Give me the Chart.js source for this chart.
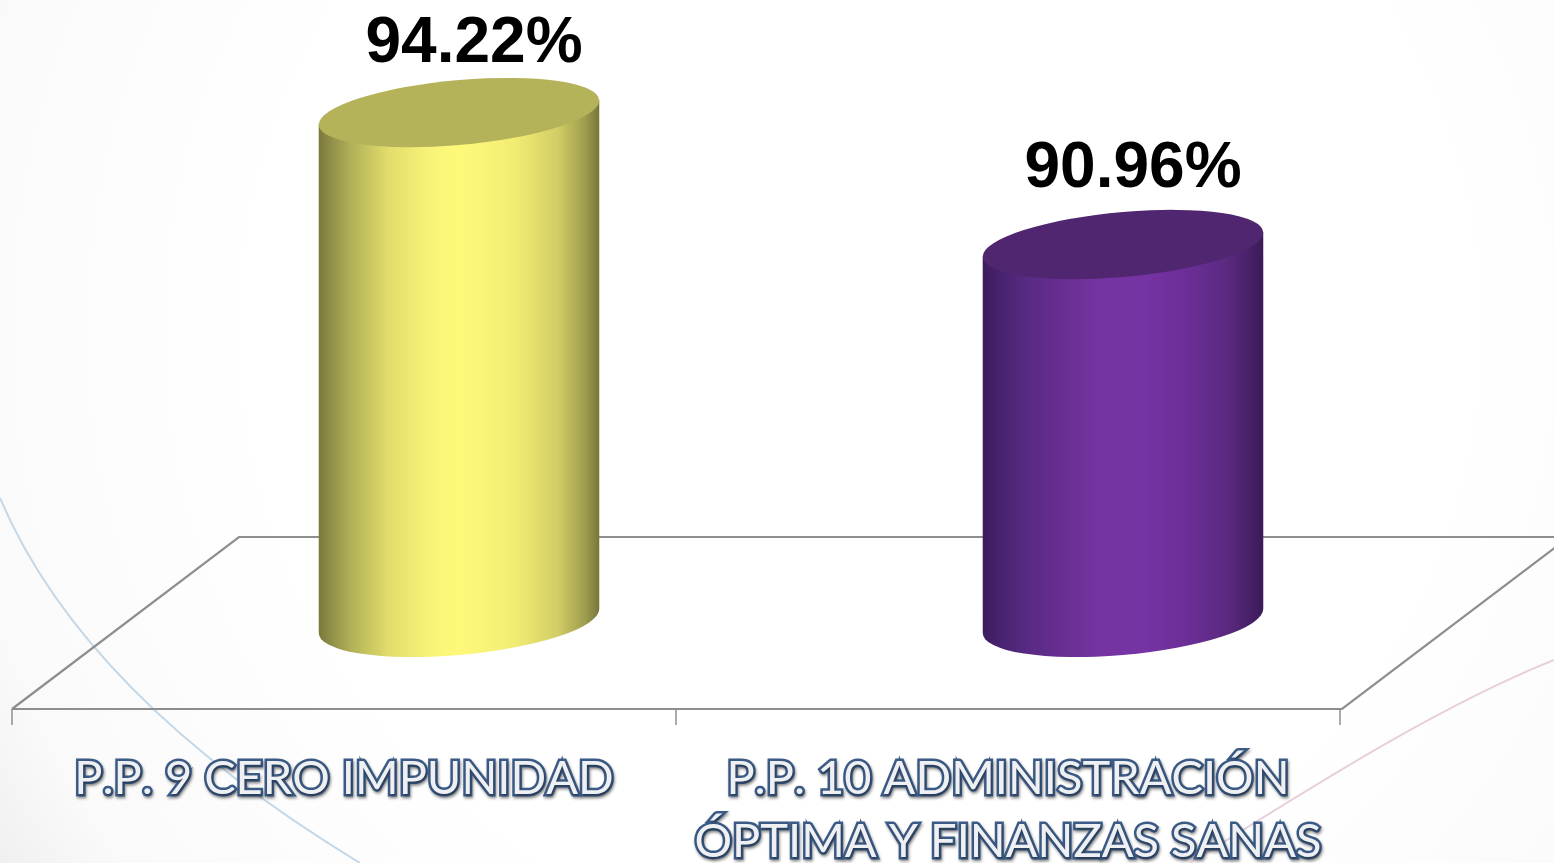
<!DOCTYPE html>
<html>
<head>
<meta charset="utf-8">
<style>html,body{margin:0;padding:0;background:#fff;overflow:hidden}canvas{display:block}</style>
<script src="https://cdn.jsdelivr.net/npm/chart.js@4/dist/chart.umd.min.js"></script>
</head>
<body>
<canvas id="c" width="1554" height="863"></canvas>
<script>
const categories = [['P.P. 9 CERO IMPUNIDAD'], ['P.P. 10 ADMINISTRACIÓN', 'ÓPTIMA Y FINANZAS SANAS']];
const values = [94.22, 90.96];
const valueLabels = ['94.22%', '90.96%'];
const topColors = ['#b5b35a', '#512670'];
const bodyStops = [
  [[0,'#7a793c'],[.04,'#8e8d47'],[.12,'#b4b259'],[.25,'#e2dd6c'],[.4,'#f9f378'],[.5,'#fff97a'],[.7,'#f2ec74'],[.85,'#d3ce65'],[.95,'#9e9c4e'],[1,'#77763b']],
  [[0,'#3b1b5c'],[.05,'#46216d'],[.15,'#572a82'],[.3,'#6a2f93'],[.42,'#7634a3'],[.58,'#7633a3'],[.72,'#6c2e97'],[.87,'#5a2a80'],[.95,'#47216a'],[1,'#3c1a56']]
];
const labelShift = [[15,-68],[10,-75]];
const yMin = 81.66, yMax = 97;

const DEPTH_X = 115, FRONT_Y = 88, BACK_Y = 84, TILT = -24/280, TOP_MINOR = 32.5, BOTTOM_MINOR = 34;

function floorLines(ctx, chart){
  const a = chart.chartArea;
  const fy = a.bottom + FRONT_Y, by = a.bottom - BACK_Y;
  const fl = a.left - DEPTH_X, fr = a.right - DEPTH_X;
  ctx.save();
  ctx.strokeStyle = '#8e8e8e';
  ctx.lineWidth = 2.2;
  ctx.beginPath();
  ctx.moveTo(fl, fy); ctx.lineTo(fl + 227, by); ctx.lineTo(fr + 229, by);
  ctx.lineTo(fr + 2, fy); ctx.lineTo(fl, fy);
  ctx.stroke();
  ctx.lineWidth = 1.5;
  ctx.beginPath();
  [0,1,2].forEach(i => {
    const x = fl + i * (fr - fl) / 2;
    ctx.moveTo(x, fy); ctx.lineTo(x, fy + 16);
  });
  ctx.stroke();
  ctx.restore();
}

const cylinderPlugin = {
  id: 'cylinder',
  beforeDraw(chart){
    const ctx = chart.ctx, w = chart.width, h = chart.height;
    ctx.save();
    ctx.fillStyle = '#fff';
    ctx.fillRect(0,0,w,h);
    const g = ctx.createRadialGradient(860,330,0,860,330,1010);
    g.addColorStop(0,'#ffffff'); g.addColorStop(.6,'#ffffff');
    g.addColorStop(.9,'#fafafa'); g.addColorStop(1,'#f0f0f0');
    ctx.fillStyle = g;
    ctx.fillRect(0,0,w,h);
    ctx.lineWidth = 2;
    ctx.strokeStyle = '#c4d8e7';
    ctx.beginPath(); ctx.moveTo(0,498); ctx.bezierCurveTo(60,640,190,760,360,863); ctx.stroke();
    ctx.strokeStyle = '#e6d0da';
    ctx.beginPath(); ctx.moveTo(1190,863); ctx.bezierCurveTo(1300,795,1430,710,1554,660); ctx.stroke();
    ctx.restore();
    floorLines(ctx, chart);
    ctx.save();
    ctx.fontKerning = 'none';
    ctx.shadowColor = 'rgba(0,0,0,.4)';
    ctx.shadowBlur = 3;
    ctx.shadowOffsetX = 1;
    ctx.shadowOffsetY = 2;
  },
  beforeDatasetsDraw(chart){
    chart.ctx.restore();
  },
  beforeDatasetDraw(chart, args){
    const ctx = chart.ctx;
    const meta = chart.getDatasetMeta(args.index);
    meta.data.forEach((el, i) => {
      const p = el.getProps(['x','y','base','width'], true);
      const a = p.width / 2, L = p.x - a, R = p.x + a, H = p.y - p.base;
      const grad = ctx.createLinearGradient(L, 0, R, 0);
      bodyStops[i].forEach(s => grad.addColorStop(s[0], s[1]));
      ctx.save();
      ctx.transform(1, TILT, 0, 1, p.x, p.base);
      ctx.beginPath();
      ctx.ellipse(0, 0, a, BOTTOM_MINOR, 0, 0, Math.PI);
      ctx.lineTo(-a, H);
      ctx.lineTo(a, H);
      ctx.closePath();
      ctx.setTransform(1,0,0,1,0,0);
      ctx.fillStyle = grad;
      ctx.fill();
      ctx.restore();
      ctx.save();
      ctx.transform(1, TILT, 0, 1, p.x, p.y);
      ctx.beginPath();
      ctx.ellipse(0, 0, a, TOP_MINOR, 0, 0, Math.PI * 2);
      ctx.fillStyle = topColors[i];
      ctx.fill();
      ctx.restore();
      ctx.save();
      ctx.font = 'bold 64px "Liberation Sans"';
      ctx.fillStyle = '#000';
      ctx.textAlign = 'center';
      ctx.textBaseline = 'middle';
      ctx.fillText(valueLabels[i], p.x + labelShift[i][0], p.y + labelShift[i][1]);
      ctx.restore();
    });
    return false;
  }
};

new Chart(document.getElementById('c'), {
  type: 'bar',
  data: {
    labels: categories,
    datasets: [{ data: values, base: yMin, backgroundColor: ['#fff97a','#7833a6'], barPercentage: 0.4225, categoryPercentage: 1 }]
  },
  plugins: [cylinderPlugin],
  options: {
    responsive: false,
    animation: false,
    devicePixelRatio: 1,
    layout: { padding: { left: 127, right: 99, top: 0, bottom: 0 } },
    plugins: { legend: { display: false }, tooltip: { enabled: false }, title: { display: false } },
    scales: {
      y: { display: false, min: yMin, max: yMax },
      x: {
        afterFit: s => { s.height = 242; s.paddingLeft = 0; s.paddingRight = 0; },
        border: { display: false },
        grid: { display: false, drawTicks: false },
        ticks: {
          autoSkip: false, maxRotation: 0, minRotation: 0,
          labelOffset: -115,
          padding: 126,
          color: '#eef0f3',
          textStrokeColor: '#3b5b86',
          textStrokeWidth: 5,
          font: { family: 'Lato', size: 47, lineHeight: 1.34 }
        }
      }
    }
  }
});
</script>
</body>
</html>
